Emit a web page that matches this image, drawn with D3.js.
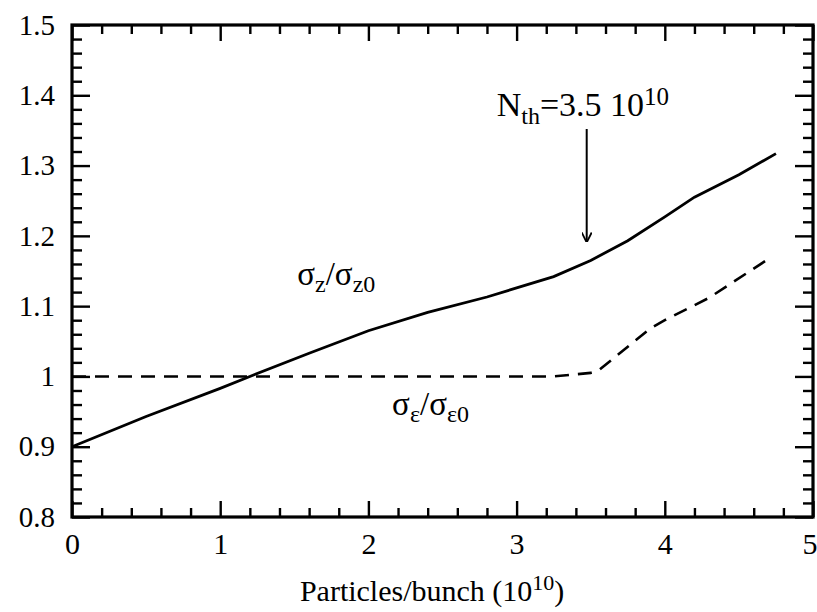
<!DOCTYPE html>
<html>
<head>
<meta charset="utf-8">
<script src="https://cdn.jsdelivr.net/npm/d3@7"></script>
<style>
  body { margin: 0; background: #fff; }
  svg { display: block; }
  text { font-family: "Liberation Serif", "Times New Roman", serif; fill: #000; }
</style>
</head>
<body>
<svg id="chart" width="817" height="612"></svg>
<script>
// values
var xTicks = [0, 1, 2, 3, 4, 5];
var yTicks = [0.8, 0.9, 1.0, 1.1, 1.2, 1.3, 1.4, 1.5];
var yTickLabels = ["0.8", "0.9", "1", "1.1", "1.2", "1.3", "1.4", "1.5"];

// sigma_z / sigma_z0 (solid)
var bunchLenX = [0, 0.5, 1.0, 1.2, 1.6, 2.0, 2.4, 2.8, 3.25, 3.5, 3.75, 4.0, 4.2, 4.5, 4.75];
var bunchLenY = [0.9, 0.943, 0.983, 1.0, 1.033, 1.065, 1.091, 1.113, 1.142, 1.165, 1.193, 1.227, 1.255, 1.287, 1.317];

// sigma_eps / sigma_eps0 (dashed)
var enSpreadX = [0, 1, 2, 3, 3.25, 3.5, 3.55, 3.9, 4.0, 4.3, 4.72];
var enSpreadY = [1.0, 1.0, 1.0, 1.0, 1.0, 1.005, 1.008, 1.068, 1.08, 1.112, 1.17];

var threshold = 3.5;

var svg = d3.select("#chart");
var margin = {top: 25, right: 4, bottom: 95, left: 72};
var width = 817 - margin.left - margin.right;
var height = 612 - margin.top - margin.bottom;

var g = svg.append("g")
    .attr("transform", "translate(" + margin.left + "," + margin.top + ")");

var x = d3.scaleLinear().domain([0, 5]).range([0, width]);
var y = d3.scaleLinear().domain([0.8, 1.5]).range([height, 0]);

var xMinor = d3.range(0, 5.001, 0.2).filter(function (v) { return Math.abs(v - Math.round(v)) > 1e-6; });
var yMinor = d3.range(0.8, 1.5001, 0.02).filter(function (v) { return Math.abs(v * 10 - Math.round(v * 10)) > 1e-6; });

function tickGroup(axis, transform) {
    var a = g.append("g").attr("transform", transform || null).call(axis);
    a.select(".domain").remove();
    a.selectAll(".tick line").attr("stroke", "#000").attr("stroke-width", 2.4);
    return a;
}

// bottom
var bx = tickGroup(d3.axisBottom(x).tickValues(xTicks).tickSize(-16).tickFormat(d3.format("d")),
    "translate(0," + height + ")");
bx.selectAll("text").style("font-size", "30px").attr("dy", "0.71em").attr("y", 16);
bx.selectAll("text").filter(function (d) { return d === 5; })
    .attr("text-anchor", "end").attr("x", 4);
tickGroup(d3.axisBottom(x).tickValues(xMinor).tickSize(-9).tickFormat(""), "translate(0," + height + ")");
// top
tickGroup(d3.axisTop(x).tickValues(xTicks).tickSize(-16).tickFormat(""));
tickGroup(d3.axisTop(x).tickValues(xMinor).tickSize(-9).tickFormat(""));
// left
var ly = tickGroup(d3.axisLeft(y).tickValues(yTicks).tickSize(-18).tickPadding(17)
    .tickFormat(function (d, i) { return yTickLabels[i]; }));
ly.selectAll("text").style("font-size", "29px");
tickGroup(d3.axisLeft(y).tickValues(yMinor).tickSize(-10).tickFormat(""));
// right
tickGroup(d3.axisRight(y).tickValues(yTicks).tickSize(-18).tickFormat(""), "translate(" + width + ",0)");
tickGroup(d3.axisRight(y).tickValues(yMinor).tickSize(-10).tickFormat(""), "translate(" + width + ",0)");

// frame
g.append("rect")
    .attr("x", 0).attr("y", 0)
    .attr("width", width).attr("height", height)
    .attr("fill", "none")
    .attr("stroke", "#000")
    .attr("stroke-width", 3.2);

var line = d3.line()
    .x(function (d) { return x(d[0]); })
    .y(function (d) { return y(d[1]); });

g.append("path")
    .datum(d3.zip(bunchLenX, bunchLenY))
    .attr("d", line)
    .attr("fill", "none")
    .attr("stroke", "#000")
    .attr("stroke-width", 2.8);

g.append("path")
    .datum(d3.zip(enSpreadX, enSpreadY))
    .attr("d", line)
    .attr("fill", "none")
    .attr("stroke", "#000")
    .attr("stroke-width", 2.6)
    .attr("stroke-dasharray", "14,9");

// threshold arrow
var defs = svg.append("defs");
defs.append("marker")
    .attr("id", "arrow")
    .attr("viewBox", "0 0 10 10")
    .attr("refX", 9).attr("refY", 5)
    .attr("markerWidth", 10).attr("markerHeight", 10)
    .attr("markerUnits", "userSpaceOnUse")
    .attr("orient", "auto")
    .append("path")
    .attr("d", "M0,0 L10,5 L0,10")
    .attr("fill", "none")
    .attr("stroke", "#000")
    .attr("stroke-width", 1.8);

g.append("line")
    .attr("x1", x(threshold) - 4).attr("x2", x(threshold) - 4)
    .attr("y1", y(1.352)).attr("y2", y(1.192))
    .attr("stroke", "#000")
    .attr("stroke-width", 2)
    .attr("marker-end", "url(#arrow)");

var nth = g.append("text")
    .attr("x", x(threshold) - 94)
    .attr("y", y(1.37))
    .style("font-size", "34px");
nth.append("tspan").text("N");
nth.append("tspan").attr("dy", 8).style("font-size", "24px").text("th");
nth.append("tspan").attr("dy", -8).text("=3.5 10");
nth.append("tspan").attr("dy", -11).style("font-size", "25px").text("10");

// curve labels
var sz = g.append("text")
    .attr("x", x(1.52))
    .attr("y", y(1.13))
    .style("font-size", "33px");
sz.append("tspan").text("σ");
sz.append("tspan").attr("dy", 7).style("font-size", "24px").text("z");
sz.append("tspan").attr("dy", -7).text("/σ");
sz.append("tspan").attr("dy", 7).style("font-size", "24px").text("z0");

var se = g.append("text")
    .attr("x", x(2.16))
    .attr("y", y(0.945))
    .style("font-size", "33px");
se.append("tspan").text("σ");
se.append("tspan").attr("dy", 7).style("font-size", "24px").text("ε");
se.append("tspan").attr("dy", -7).text("/σ");
se.append("tspan").attr("dy", 7).style("font-size", "24px").text("ε0");

// x axis title
var xt = g.append("text")
    .attr("x", x(2.43))
    .attr("y", height + 84)
    .attr("text-anchor", "middle")
    .style("font-size", "30px");
xt.append("tspan").text("Particles/bunch (10");
xt.append("tspan").attr("dy", -11).style("font-size", "22px").text("10");
xt.append("tspan").attr("dy", 11).text(")");
</script>
</body>
</html>
